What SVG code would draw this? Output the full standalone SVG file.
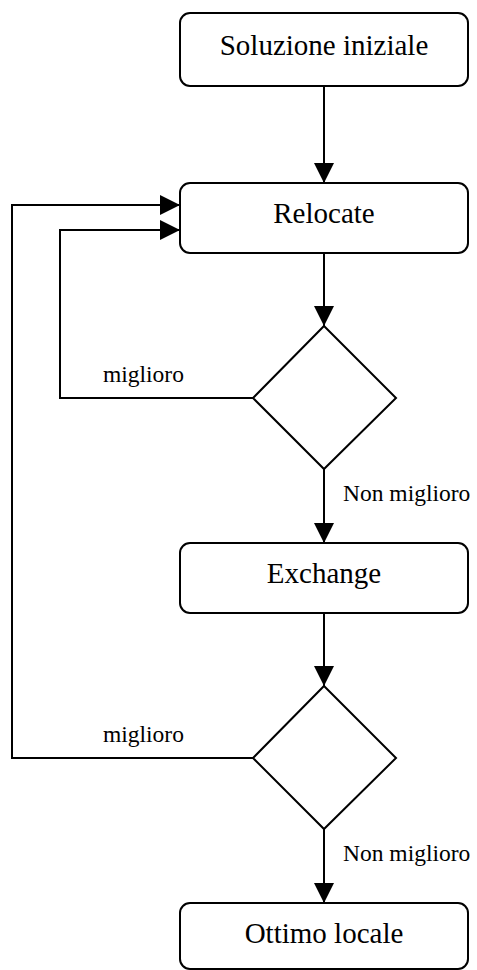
<svg xmlns="http://www.w3.org/2000/svg" width="477" height="970" viewBox="0 0 477 970">
<style>
.box{fill:#fff;stroke:#000;stroke-width:2}
.dia{fill:#fff;stroke:#000;stroke-width:2}
.t{font-family:"Liberation Serif","Times New Roman",serif;font-size:29px;fill:#000;text-anchor:middle}
.l{font-family:"Liberation Serif","Times New Roman",serif;font-size:23.5px;fill:#000}
.c{fill:none;stroke:#000;stroke-width:2;marker-end:url(#ah)}
</style>
<defs>
<marker id="ah" markerUnits="userSpaceOnUse" markerWidth="20" markerHeight="20" refX="20" refY="10" orient="auto">
<path d="M0,0 L20,10 L0,20 Z" fill="#000"/>
</marker>
</defs>
<g id="connectors">
<path class="c" d="M324,86 V183"/>
<path class="c" d="M324,253 V326"/>
<path class="c" d="M324,469 V543"/>
<path class="c" d="M324,613 V686"/>
<path class="c" d="M324,829 V903"/>
<path class="c" d="M253,398 H60 V230 H180"/>
<path class="c" d="M253,758 H12 V205 H180"/>
<text class="l" x="103" y="382">miglioro</text>
<text class="l" x="343" y="501">Non miglioro</text>
<text class="l" x="103" y="742">miglioro</text>
<text class="l" x="343" y="861">Non miglioro</text>
</g>
<g id="start">
<rect class="box" x="180" y="13" width="288" height="73" rx="10"/>
<text class="t" x="324" y="55">Soluzione iniziale</text>
</g>
<g id="relocate">
<rect class="box" x="180" y="183" width="288" height="70" rx="10"/>
<text class="t" x="324" y="223">Relocate</text>
</g>
<g id="decision1">
<polygon class="dia" points="324,326 396,398 324,469 253,398"/>
</g>
<g id="exchange">
<rect class="box" x="180" y="543" width="288" height="70" rx="10"/>
<text class="t" x="324" y="583">Exchange</text>
</g>
<g id="decision2">
<polygon class="dia" points="324,686 396,758 324,829 253,758"/>
</g>
<g id="end">
<rect class="box" x="180" y="903" width="288" height="66" rx="10"/>
<text class="t" x="324" y="943">Ottimo locale</text>
</g>
</svg>
